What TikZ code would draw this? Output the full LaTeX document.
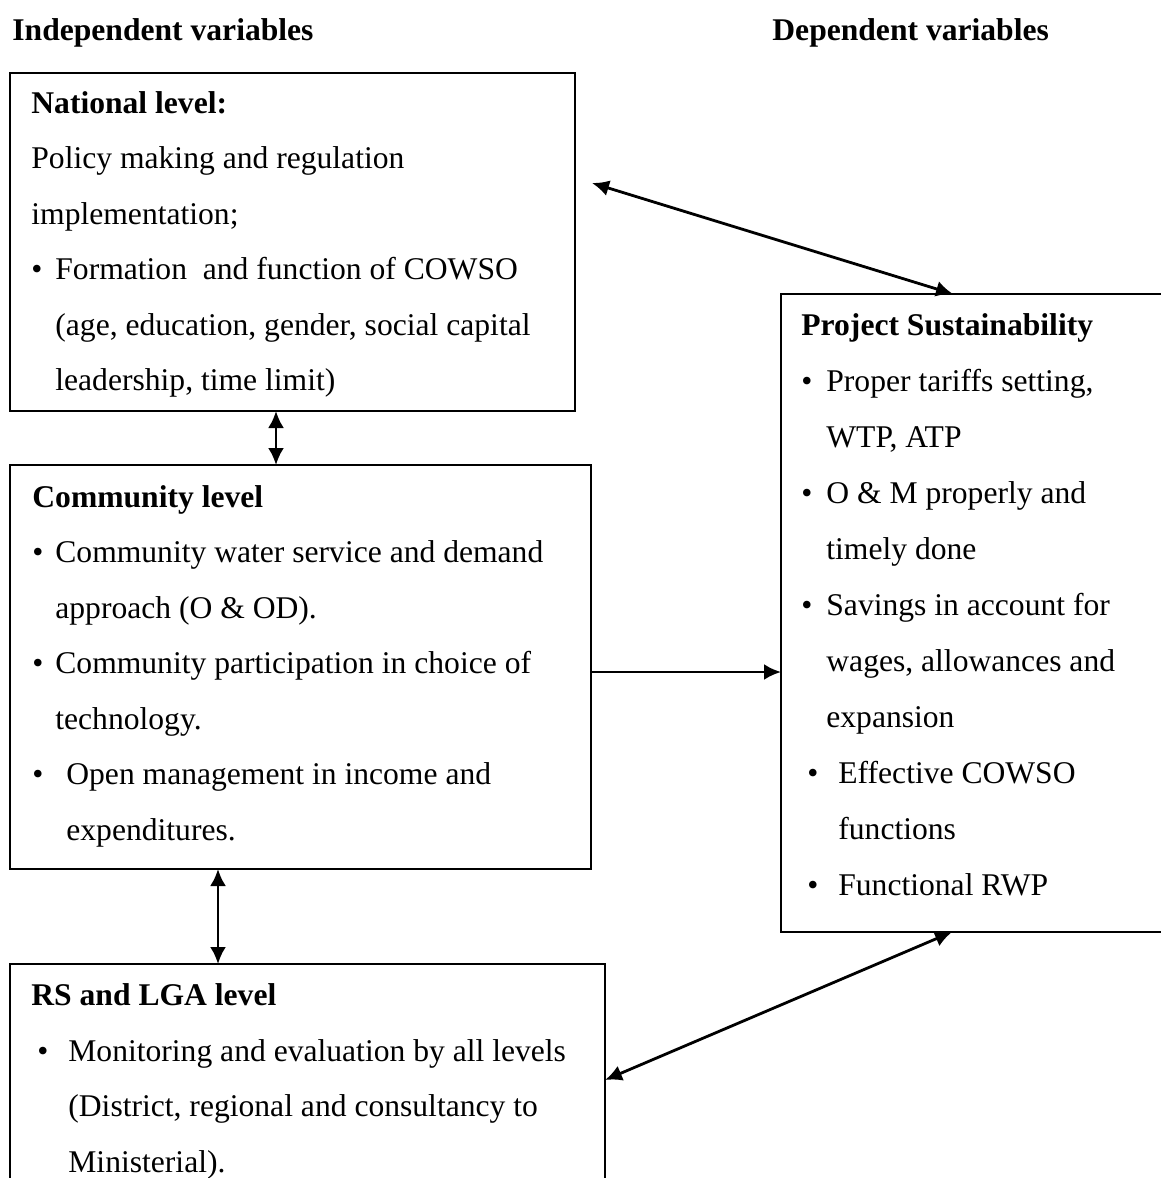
\documentclass[tikz,border=0pt]{standalone}
\usepackage{fontspec}
\setmainfont{Liberation Serif}
\usepackage{tikz}
\usetikzlibrary{arrows.meta, calc}

\begin{document}
\begin{tikzpicture}[
        x=0.5pt, y=-0.5pt,
        level/.style={
            draw=black,
            line width=1pt,
            inner sep=0pt,
            outer sep=0pt,
            anchor=north west
        },
        body/.style={
            anchor=base west,
            align=left,
            inner sep=0pt,
            font=\fontsize{15.8pt}{27.75pt}\selectfont
        },
        heading/.style={anchor=base west, inner sep=0pt, font=\fontsize{15.8pt}{27.75pt}\selectfont\bfseries},
        link/.style={line width=1.4pt, {Latex[length=8.5pt,width=8pt]}-{Latex[length=8.5pt,width=8pt]}},
        feed/.style={line width=1.4pt, -{Latex[length=8.5pt,width=8pt]}}
    ]
        \useasboundingbox (0,0) rectangle (1161,1178);
        \clip (0,0) rectangle (1161,1178);

        \node[heading] (indep) at (12,40) {Independent variables};
        \node[heading] (dep) at (772,40) {Dependent variables};

        \node[level, minimum width=282.5pt, minimum height=169pt] (national) at (10,73) {};
        \node[body] (nationaltext) at (31,390.5) {\textbf{National level:}\\
            Policy making and regulation\\
            implementation;\\
            \makebox[12pt][l]{\textbullet}Formation\ \ and function of COWSO\\
            \hspace*{12pt}(age, education, gender, social capital\\
            \hspace*{12pt}leadership, time limit)};

        \node[level, minimum width=290.5pt, minimum height=202pt] (community) at (10,465) {};
        \node[body] (communitytext) at (32,840) {\textbf{Community level}\\
            \makebox[11.5pt][l]{\textbullet}Community water service and demand\\
            \hspace*{11.5pt}approach (O \& OD).\\
            \makebox[11.5pt][l]{\textbullet}Community participation in choice of\\
            \hspace*{11.5pt}technology.\\
            \makebox[17pt][l]{\textbullet}Open management in income and\\
            \hspace*{17pt}expenditures.};

        \node[level, minimum width=197pt, minimum height=319pt] (project) at (781,294) {};
        \node[body, font=\fontsize{15.8pt}{28pt}\selectfont] (projecttext) at (801,895) {\textbf{Project Sustainability}\\
            \makebox[12.5pt][l]{\textbullet}Proper tariffs setting,\\
            \hspace*{12.5pt}WTP, ATP\\
            \makebox[12.5pt][l]{\textbullet}O \& M properly and\\
            \hspace*{12.5pt}timely done\\
            \makebox[12.5pt][l]{\textbullet}Savings in account for\\
            \hspace*{12.5pt}wages, allowances and\\
            \hspace*{12.5pt}expansion\\
            \hspace*{3pt}\makebox[15.5pt][l]{\textbullet}Effective COWSO\\
            \hspace*{18.5pt}functions\\
            \hspace*{3pt}\makebox[15.5pt][l]{\textbullet}Functional RWP};

        \node[level, minimum width=297.5pt, minimum height=118pt] (rslga) at (10,964) {};
        \node[body] (rslgatext) at (31,1172) {\textbf{RS and LGA level}\\
            \hspace*{3pt}\makebox[15.5pt][l]{\textbullet}Monitoring and evaluation by all levels\\
            \hspace*{18.5pt}(District, regional and consultancy to\\
            \hspace*{18.5pt}Ministerial).};

        \coordinate (natgap) at ($(national.north east)+(17,110)$);
        \draw[link] (natgap) -- ($(project.north west)+(172,0)$);
        \draw[link] ($(national.south west)+(266,0)$) -- ($(community.north west)+(266,0)$);
        \draw[feed] ($(community.north east)+(0,207)$) -- ($(project.north west)+(0,378)$);
        \draw[link] ($(community.south west)+(208,0)$) -- ($(rslga.north west)+(208,0)$);
        \draw[link] ($(rslga.north east)+(0,116)$) -- ($(project.south west)+(171,0)$);
    \end{tikzpicture}
\end{document}
